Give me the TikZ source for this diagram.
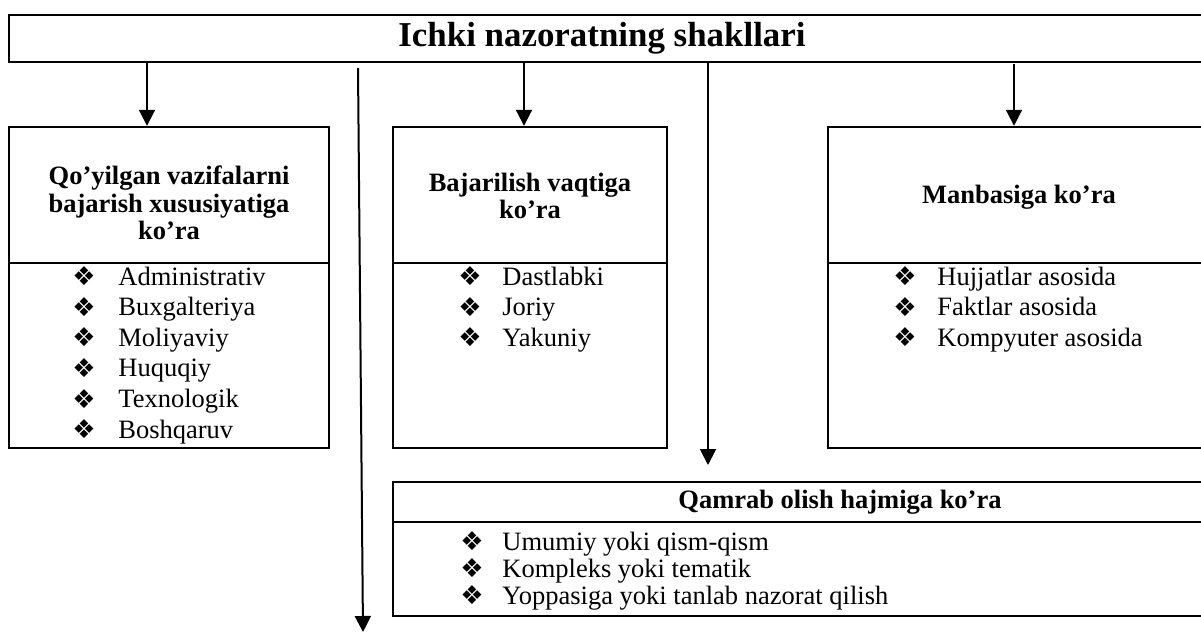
\documentclass[tikz,border=0pt]{standalone}
\usepackage{fontspec}
\setmainfont{Liberation Serif}
\newfontfamily\djv{DejaVu Sans}
\usetikzlibrary{arrows.meta,fit}
\newcommand\mybul{\raisebox{-0.3pt}{\djv\fontsize{13}{13}\selectfont ❖}}
\begin{document}
\begin{tikzpicture}[x=0.5pt,y=-0.5pt,
  blk/.style={draw, line width=1.2pt, inner sep=0pt},
  dv/.style={line width=1pt},
  arr/.style={-{Triangle[length=8pt,width=8pt]}, line width=1pt},
  hd/.style={align=center, inner sep=0pt, font=\bfseries\fontsize{13.25}{13.8}\selectfont},
  ttl/.style={inner sep=0pt, font=\bfseries\fontsize{17.45}{20}\selectfont},
  li/.style={anchor=base west, inner sep=0pt, font=\fontsize{13.25}{15}\selectfont}]
\clip (0,0) rectangle (1201,633);
% boxes
\node[blk, fit={(9,15)(1215,62)}] (top) {};
\node[blk, fit={(9,127)(329,448)}] (b1) {};
\node[blk, fit={(393,127)(667,448)}] (b2) {};
\node[blk, fit={(828,127)(1215,448)}] (b3) {};
\node[blk, fit={(393,482)(1290,616)}] (b4) {};
% dividers
\coordinate (d1) at (0,263);
\coordinate (d4) at (0,522);
\draw[dv] (b1.west |- d1) -- (b1.east |- d1);
\draw[dv] (b2.west |- d1) -- (b2.east |- d1);
\draw[dv] (b3.west |- d1) -- (b3.east |- d1);
\draw[dv] (b4.west |- d4) -- (b4.east |- d4);
% title and headings
\node[ttl] (title) at (602,38) {Ichki nazoratning shakllari};
\node[hd] (h1) at (169,203) {Qo’yilgan vazifalarni\\bajarish xususiyatiga\\ko’ra};
\node[hd] (h2) at (530,196) {Bajarilish vaqtiga\\ko’ra};
\node[hd] (h3) at (1019,197) {Manbasiga ko’ra};
\node[hd] (h4) at (840,502) {Qamrab olish hajmiga ko’ra};
% lists
\foreach \t [count=\i] in {Administrativ,Buxgalteriya,Moliyaviy,Huquqiy,Texnologik,Boshqaruv}
  \node[li] (p\i) at (72,{285+30.6*(\i-1)}) {\makebox[23pt][l]{\mybul}\t};
\foreach \t [count=\i] in {Dastlabki,Joriy,Yakuniy}
  \node[li] (q\i) at (458,{285+30.6*(\i-1)}) {\makebox[22pt][l]{\mybul}\t};
\foreach \t [count=\i] in {Hujjatlar asosida,Faktlar asosida,Kompyuter asosida}
  \node[li] (r\i) at (893,{285+30.6*(\i-1)}) {\makebox[22pt][l]{\mybul}\t};
\foreach \t [count=\i] in {Umumiy yoki qism-qism,Kompleks yoki tematik,Yoppasiga yoki tanlab nazorat qilish}
  \node[li] (s\i) at (460,{550+27*(\i-1)}) {\makebox[21pt][l]{\mybul}\t};
% connectors
\coordinate (x1) at (147,0);
\coordinate (x3) at (524,0);
\coordinate (x4) at (708,0);
\coordinate (x5) at (1014,0);
\coordinate (s2) at (358,68);
\coordinate (e2) at (363,632);
\coordinate (e4) at (708,465);
\coordinate (s5) at (1014,64);
\draw[arr] (top.south -| x1) -- (b1.north -| x1);
\draw[arr] (s2) -- (e2);
\draw[arr] (top.south -| x3) -- (b2.north -| x3);
\draw[arr] (top.south -| x4) -- (e4);
\draw[arr] (s5) -- (b3.north -| x5);
\end{tikzpicture}
\end{document}
